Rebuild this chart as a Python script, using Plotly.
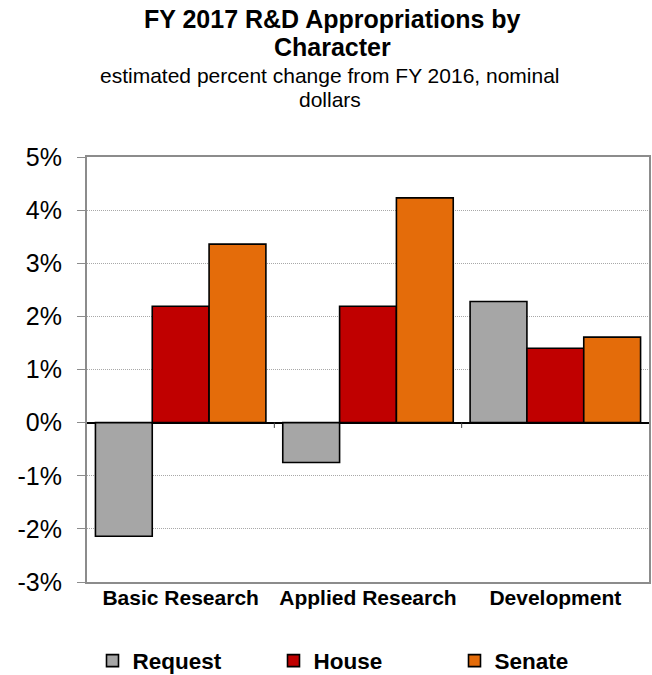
import plotly.graph_objects as go

categories = ["Basic Research", "Applied Research", "Development"]
series_names = ["Request", "House", "Senate"]
request = [-2.14, -0.75, 2.28]
house = [2.19, 2.19, 1.40]
senate = [3.36, 4.23, 1.61]
colors = ["#A6A6A6", "#C00000", "#E46C0A"]
y_ticks = [-3, -2, -1, 0, 1, 2, 3, 4, 5]
y_tick_labels = ["-3%", "-2%", "-1%", "0%", "1%", "2%", "3%", "4%", "5%"]
title_lines = ["FY 2017 R&D Appropriations by", "Character"]
subtitle_lines = ["estimated percent change from FY 2016, nominal", "dollars"]

FONT = "Liberation Sans, Arial, sans-serif"
W, H = 652, 675
ML, MR, MT, MB = 87, 1, 157, 93
PH = H - MT - MB
PW = W - ML - MR

fig = go.Figure()
for name, vals, col in zip(series_names, [request, house, senate], colors):
    fig.add_trace(go.Bar(
        name=name, x=categories, y=vals,
        marker=dict(color=col, line=dict(color="#000000", width=1.6)),
    ))

def py_to_paper(py):
    return (H - MB - py) / PH

def px_to_paper(px):
    return (px - ML) / PW

annotations = []
for txt, py in zip(title_lines, [19, 47]):
    annotations.append(dict(text=txt, x=px_to_paper(333), xref="paper", xanchor="center",
                            y=py_to_paper(py), yref="paper", yanchor="middle",
                            showarrow=False,
                            font=dict(family=FONT, size=25, color="#000", weight="bold")))
for txt, py in zip(subtitle_lines, [75.5, 99]):
    annotations.append(dict(text=txt, x=px_to_paper(331), xref="paper", xanchor="center",
                            y=py_to_paper(py), yref="paper", yanchor="middle",
                            showarrow=False, font=dict(family=FONT, size=21, color="#000")))

shapes = []
for i in range(len(categories) - 1):
    shapes.append(dict(type="line", xref="x", yref="y", x0=i + 0.5, x1=i + 0.5,
                       y0=0, y1=-0.1, line=dict(color="#404040", width=1)))

fig.update_layout(
    width=W, height=H,
    margin=dict(l=ML, r=MR, t=MT, b=MB),
    paper_bgcolor="white", plot_bgcolor="white",
    barmode="group", bargap=0.09, bargroupgap=0,
    font=dict(family=FONT, color="#000"),
    showlegend=True,
    legend=dict(orientation="h", xref="container", x=92.5 / W, xanchor="left",
                yref="container", y=(H - 661) / H, yanchor="middle",
                font=dict(family=FONT, size=22.5, color="#000", weight="bold"),
                entrywidthmode="pixels", entrywidth=136,
                tracegroupgap=0, borderwidth=0,
                itemclick=False, itemdoubleclick=False),
    annotations=annotations,
    shapes=shapes,
)
fig.update_xaxes(
    showline=True, mirror=True, linecolor="#8C8C8C", linewidth=2,
    ticks="", showgrid=False, ticklabelstandoff=-4,
    tickfont=dict(family=FONT, size=21, color="#000", weight="bold"),
)
fig.update_yaxes(
    range=[-3, 5], tickvals=y_ticks, ticktext=y_tick_labels,
    showline=True, mirror=True, linecolor="#8C8C8C", linewidth=2,
    ticks="outside", ticklen=8, tickcolor="#8C8C8C", tickwidth=1,
    ticklabelstandoff=10,
    showgrid=True, gridcolor="#A8A8A8", griddash="1px,1px", gridwidth=1,
    zeroline=True, zerolinecolor="#000000", zerolinewidth=1.5,
    tickfont=dict(family=FONT, size=25, color="#000"),
)

fig.write_html("out.html")
